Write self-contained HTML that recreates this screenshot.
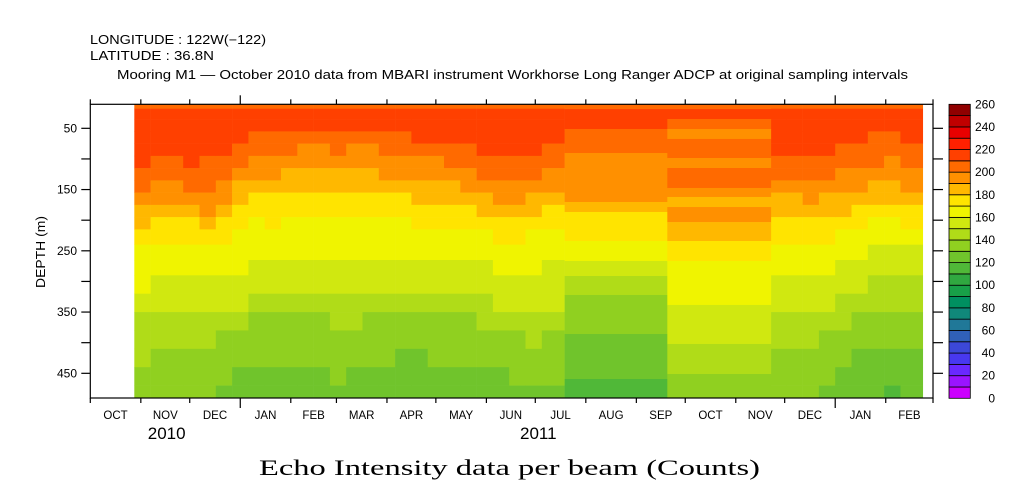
<!DOCTYPE html>
<html><head><meta charset="utf-8"><style>
html,body{margin:0;padding:0;background:#fff;}
svg{display:block;font-family:"Liberation Sans",sans-serif;}
</style></head><body>
<svg id="chart" width="1009" height="504" viewBox="0 0 1009 504" xmlns="http://www.w3.org/2000/svg">
<text x="90" y="44" font-size="12.5" textLength="176" lengthAdjust="spacingAndGlyphs">LONGITUDE : 122W(−122)</text>
<text x="90" y="60" font-size="12.5" textLength="124" lengthAdjust="spacingAndGlyphs">LATITUDE : 36.8N</text>
<text x="117" y="79" font-size="12.5" textLength="791" lengthAdjust="spacingAndGlyphs">Mooring M1 — October 2010 data from MBARI instrument Workhorse Long Ranger ADCP at original sampling intervals</text>
<g id="heat"></g>
<g id="axes"></g>
<g id="cbar"></g>
<text transform="translate(45,252) rotate(-90)" text-anchor="middle" font-size="12.5" textLength="72" lengthAdjust="spacingAndGlyphs">DEPTH (m)</text>
<text x="259" y="475" font-family="Liberation Serif, serif" font-size="22" textLength="501" lengthAdjust="spacingAndGlyphs">Echo Intensity data per beam (Counts)</text>
</svg>
<script>
// ---- data ----
const palette = ["#cc00ff","#9a14ff","#6a28ff","#4838f0","#3c48d8","#3060b8","#207898","#10887a","#009060","#18a048","#30a840","#50b838","#70c42c","#90d020","#b0dc18","#d0e810","#f0f400","#ffe400","#ffb800","#ff9000","#ff6a00","#ff4000","#ff2000","#e80000","#c00000","#900000"];
const cbarLabels = [0,20,40,60,80,100,120,140,160,180,200,220,240,260];
const depthTicks = [50,100,150,200,250,300,350,400,450];
const depthLabels = [50,150,250,350,450];
const monthNames = ["OCT","NOV","DEC","JAN","FEB","MAR","APR","MAY","JUN","JUL","AUG","SEP","OCT","NOV","DEC","JAN","FEB"];
const monthStartDays = [0,31,61,92,123,151,182,212,243,273,304,335,365,396,426,457,488,517];
const yearLabels = ["2010","2011"];
const yearLabelDays = [45,273];
const noisyEdges = [10.8,18,35,55,75,95,115,135,155,175,195,215,240,265,290,320,350,380,410,440,470,490];
const segStart = [27,37,47,57,67,77,87,97,107,117,127,137,147,157,167,177,187,197,207,217,227,237,247,257,267,277,417.5,427,437,447,457,467,477,487,497];
const segEnd   = [37,47,57,67,77,87,97,107,117,127,137,147,157,167,177,187,197,207,217,227,237,247,257,267,277,291,427,437,447,457,467,477,487,497,510.7];
const noisyValues = [
[205,215,215,214,212,210,206,200,195,188,180,172,166,163,160,156,148,144,141,138,136],
[205,215,215,213,210,206,202,196,190,184,176,170,165,161,157,153,145,141,138,135,133],
[205,215,215,214,211,208,204,198,192,186,178,171,166,162,158,154,146,142,139,136,134],
[205,215,215,214,212,210,206,201,194,187,179,172,167,163,159,155,146,142,138,135,132],
[205,215,215,214,212,209,205,200,195,190,183,174,167,163,159,154,145,141,137,133,130],
[205,215,215,213,210,207,203,197,191,185,177,170,165,161,157,152,143,139,135,131,128],
[205,215,214,210,205,200,194,188,182,176,171,167,164,160,155,150,141,137,133,129,126],
[205,215,213,208,202,196,190,184,178,173,169,166,162,158,153,148,139,135,131,127,124],
[205,215,213,208,203,197,191,185,179,174,170,166,162,157,152,147,138,134,130,126,123],
[205,215,212,206,200,194,188,182,177,173,169,165,161,157,152,147,139,135,131,127,124],
[205,214,210,204,198,192,186,181,176,172,168,165,161,157,152,147,139,135,131,128,125],
[205,214,211,205,199,193,187,182,177,172,168,164,160,156,151,147,139,135,132,129,126],
[205,215,212,206,200,194,188,183,178,173,169,165,161,157,153,149,141,137,133,130,127],
[205,214,210,204,198,192,186,181,176,172,168,164,160,156,152,148,140,136,132,129,126],
[205,215,212,206,199,193,187,182,177,172,168,164,160,156,151,147,139,135,131,127,124],
[205,215,213,208,202,196,190,184,178,173,169,165,161,157,152,147,138,134,130,126,123],
[205,215,213,209,203,197,191,185,179,174,169,165,161,156,151,146,137,133,129,125,122],
[205,215,214,210,204,198,192,186,180,175,170,166,161,156,151,146,137,133,129,125,122],
[205,215,214,211,205,199,193,187,181,176,171,166,162,157,152,147,138,134,130,126,123],
[205,215,214,211,206,200,194,188,182,177,172,167,162,157,152,147,139,135,131,127,124],
[205,215,214,212,208,203,197,191,185,179,173,168,163,158,153,148,139,135,131,127,124],
[205,215,215,213,210,206,200,194,187,181,175,169,164,159,154,149,140,136,132,128,125],
[205,215,215,214,211,208,204,198,191,184,177,171,165,160,155,150,141,137,133,129,126],
[205,215,215,214,212,209,205,199,193,186,178,172,166,161,156,151,142,138,134,130,127],
[205,215,215,213,210,206,201,195,188,181,174,168,164,160,156,152,144,140,136,132,129],
[205,215,214,211,207,202,196,190,184,178,172,167,163,159,155,151,143,139,135,131,128],
[205,215,215,213,210,205,200,194,188,181,175,170,166,162,158,154,146,142,138,134,131],
[205,215,215,213,210,206,201,195,189,183,177,171,166,162,158,153,145,141,137,133,130],
[205,215,215,214,211,207,203,197,191,185,178,172,167,163,158,154,145,141,137,133,130],
[205,215,215,213,210,206,201,195,189,182,176,170,165,161,157,152,143,139,135,131,128],
[205,215,214,211,207,203,198,192,186,180,174,168,163,159,154,149,140,136,132,128,125],
[205,215,214,211,207,203,198,192,185,178,171,166,161,156,151,146,137,133,129,125,122],
[205,215,213,209,205,200,195,189,182,175,169,164,159,154,149,144,135,131,127,123,120],
[205,215,213,209,204,199,193,187,180,174,168,163,158,153,148,143,134,130,126,122,119],
[205,215,214,210,206,201,196,190,183,176,170,164,159,154,149,144,135,131,127,123,120]
];
const blockStart = [291,354];
const blockEnd = [354,417.5];
const block1Edges = [10.8,18.5,51.1,90.3,170.3,186.6,234,266.6,291.1,322.1,385.8,459.3,490];
const block1Values = [205,215,205,195,185,175,165,155,145,135,125,115];
const block2Edges = [10.8,18.5,34.8,51.1,67.4,98.5,114.8,147.4,162.1,178.5,203.1,234,266.6,338.4,402.1,451.1,490];
const block2Values = [205,215,205,195,205,195,205,195,185,195,185,175,165,155,145,135];

// ---- scales ----
const X0=90.3, PXD=1.63, Y0=104.3, D0=10.8, PXM=0.6125, YB=398;
const xDay = d => X0 + d*PXD;
const yDepth = m => Y0 + (m-D0)*PXM;
const colorOf = v => palette[Math.max(0,Math.min(25,Math.floor(v/10)))];
const NS="http://www.w3.org/2000/svg";
function mk(tag, attrs, parent){const e=document.createElementNS(NS,tag);for(const k in attrs)e.setAttribute(k,attrs[k]);parent.appendChild(e);return e;}

const heat=document.getElementById('heat');
function cell(d0,d1,m0,m1,v){
  const r=mk('rect',{x:xDay(d0),y:yDepth(m0),width:xDay(d1)-xDay(d0)+0.3,height:yDepth(m1)-yDepth(m0)+0.3,fill:colorOf(v)},heat);
  
  
}
segStart.forEach((s,i)=>{
  noisyValues[i].forEach((v,j)=>cell(s,segEnd[i],noisyEdges[j],noisyEdges[j+1],v));
});
block1Values.forEach((v,j)=>cell(blockStart[0],blockEnd[0],block1Edges[j],block1Edges[j+1],v));
block2Values.forEach((v,j)=>cell(blockStart[1],blockEnd[1],block2Edges[j],block2Edges[j+1],v));

// ---- axes ----
const ax=document.getElementById('axes');
const XR=xDay(517);
const frame=mk('rect',{x:X0,y:Y0,width:XR-X0,height:YB-Y0,fill:'none',stroke:'#000','stroke-width':1.2},ax);


depthTicks.forEach(m=>{
  const y=yDepth(m);
  const t1=mk('line',{x1:X0-9,x2:X0,y1:y,y2:y,stroke:'#000','stroke-width':1.2},ax);
  
  
  const t2=mk('line',{x1:XR,x2:XR+10,y1:y,y2:y,stroke:'#000','stroke-width':1.2},ax);
  
  
});
depthLabels.forEach(m=>{
  const t=mk('text',{x:77,y:yDepth(m)+4,'text-anchor':'end','font-size':12},ax);
  t.textContent=m;
  
  
});
monthStartDays.forEach((d,i)=>{
  const x=xDay(d);
  const jan=(d===92||d===457);
  const b=mk('line',{x1:x,x2:x,y1:YB,y2:YB+(jan?10:5),stroke:'#000','stroke-width':1.2},ax);
  
  
  const tp=mk('line',{x1:x,x2:x,y1:Y0-(jan?9:5),y2:Y0,stroke:'#000','stroke-width':1.2},ax);
  
  
  if(i<monthNames.length){
    const t=mk('text',{x:xDay((d+monthStartDays[i+1])/2),y:419,'text-anchor':'middle','font-size':11.5},ax);
    t.textContent=monthNames[i];
    
    
  }
});
yearLabels.forEach((y,i)=>{
  const t=mk('text',{x:xDay(yearLabelDays[i])+3,y:439,'text-anchor':'middle','font-size':17},ax);
  t.textContent=y;
  
  
});

// ---- colorbar ----
const cb=document.getElementById('cbar');
const CX=949, CW=21.3, CT=104.3, CB=398.3, ch=(CB-CT)/palette.length;
palette.forEach((c,i)=>{
  const r=mk('rect',{x:CX,y:CB-(i+1)*ch,width:CW,height:ch,fill:c,stroke:'#000','stroke-width':0.8},cb);
  
  
});
cbarLabels.forEach(v=>{
  const t=mk('text',{x:995,y:CB-(v/10)*ch+4,'text-anchor':'end','font-size':12},cb);
  t.textContent=v;
  
  
});
</script>
</body></html>
